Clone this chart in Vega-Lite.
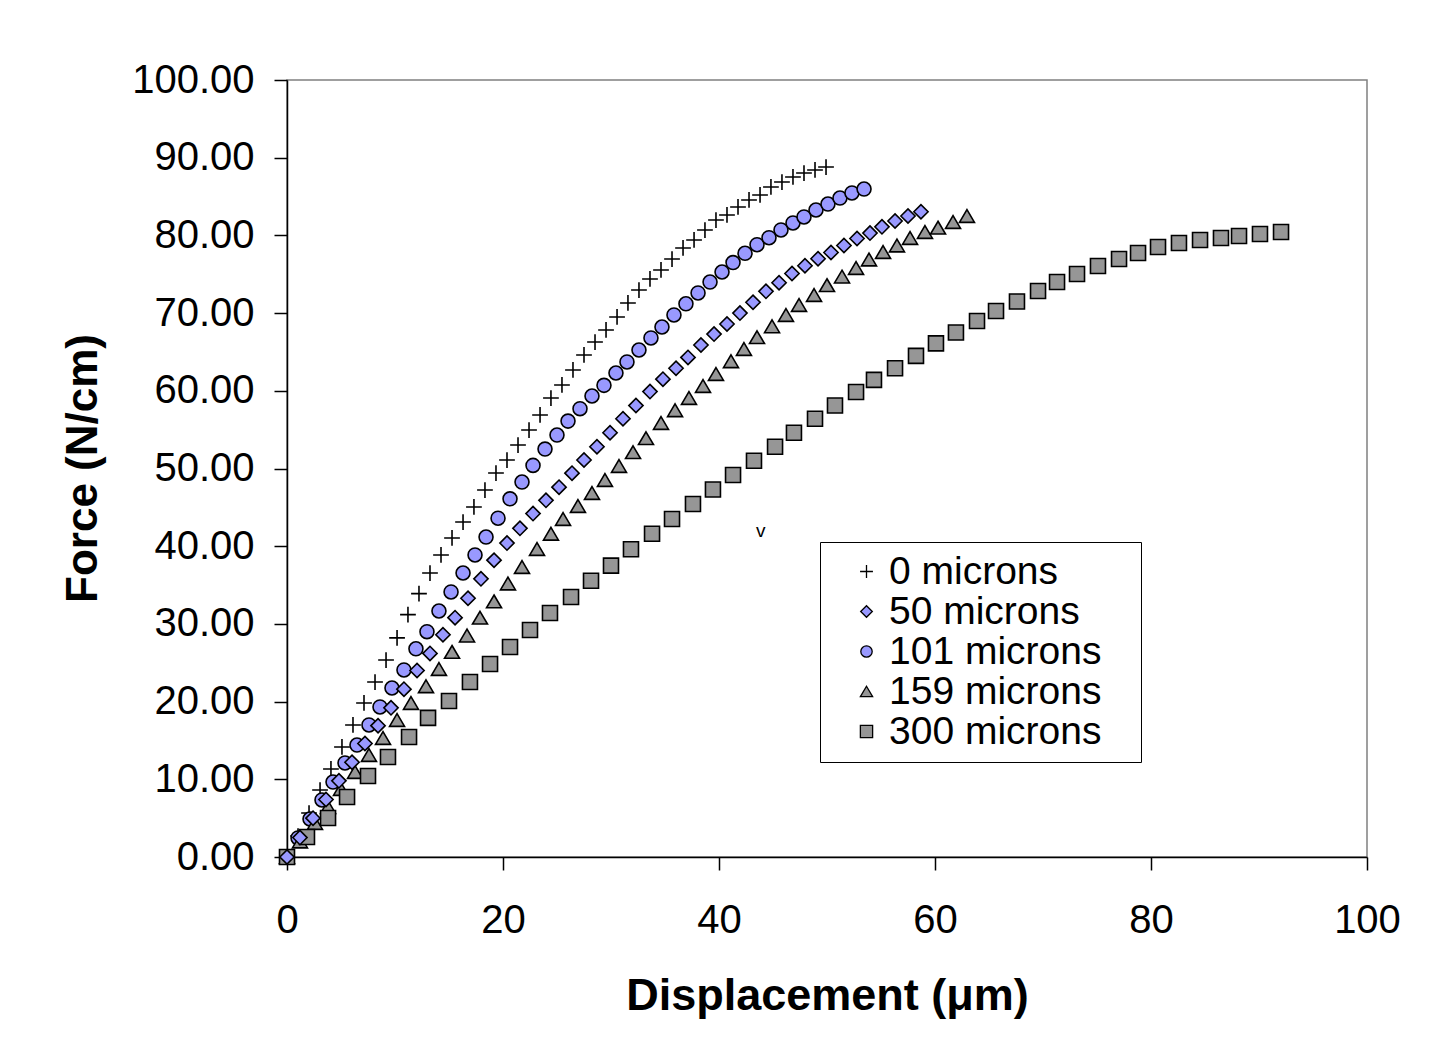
{
  "$schema": "https://vega.github.io/schema/vega-lite/v6.json",
  "autosize": {"type": "none"},
  "width": 1080,
  "height": 777,
  "padding": {"left": 287, "top": 80, "right": 64, "bottom": 183},
  "background": "white",
  "config": {
    "view": {"stroke": "#808080", "strokeWidth": 1.5},
    "font": "Liberation Sans",
    "legend": {
      "orient": "none", "legendX": 533, "legendY": 462,
      "strokeColor": "black", "fillColor": "white", "padding": 10,
      "symbolSize": 150, "symbolStrokeWidth": 1.3, "symbolOffset": 17,
      "labelFont": "Liberation Sans", "labelFontSize": 39, "labelColor": "black", "labelOffset": 3, "labelLimit": 400,
      "rowPadding": 0
    }
  },
  "datasets": {
    "pts": [
      {"s":"0 microns","x":0,"y":0},{"s":"0 microns","x":1.02,"y":2.7},{"s":"0 microns","x":2.04,"y":5.66},{"s":"0 microns","x":3.06,"y":8.62},{"s":"0 microns","x":4.07,"y":11.33},{"s":"0 microns","x":5.09,"y":14.16},{"s":"0 microns","x":6.11,"y":16.99},{"s":"0 microns","x":7.13,"y":19.82},{"s":"0 microns","x":8.15,"y":22.52},{"s":"0 microns","x":9.17,"y":25.35},
      {"s":"0 microns","x":10.19,"y":28.2},{"s":"0 microns","x":11.2,"y":31.2},{"s":"0 microns","x":12.22,"y":33.9},{"s":"0 microns","x":13.24,"y":36.55},{"s":"0 microns","x":14.26,"y":38.87},{"s":"0 microns","x":15.28,"y":41.06},{"s":"0 microns","x":16.3,"y":43.11},{"s":"0 microns","x":17.31,"y":45.05},{"s":"0 microns","x":18.33,"y":47.23},{"s":"0 microns","x":19.35,"y":49.42},
      {"s":"0 microns","x":20.37,"y":51.09},{"s":"0 microns","x":21.39,"y":53.02},{"s":"0 microns","x":22.41,"y":54.95},{"s":"0 microns","x":23.43,"y":56.89},{"s":"0 microns","x":24.44,"y":59.07},{"s":"0 microns","x":25.46,"y":60.75},{"s":"0 microns","x":26.48,"y":62.68},{"s":"0 microns","x":27.5,"y":64.61},{"s":"0 microns","x":28.52,"y":66.28},{"s":"0 microns","x":29.54,"y":67.83},
      {"s":"0 microns","x":30.56,"y":69.5},{"s":"0 microns","x":31.57,"y":71.3},{"s":"0 microns","x":32.59,"y":72.97},{"s":"0 microns","x":33.61,"y":74.39},{"s":"0 microns","x":34.63,"y":75.55},{"s":"0 microns","x":35.65,"y":76.96},{"s":"0 microns","x":36.67,"y":78.38},{"s":"0 microns","x":37.69,"y":79.41},{"s":"0 microns","x":38.7,"y":80.69},{"s":"0 microns","x":39.72,"y":81.98},
      {"s":"0 microns","x":40.74,"y":82.63},{"s":"0 microns","x":41.76,"y":83.66},{"s":"0 microns","x":42.78,"y":84.56},{"s":"0 microns","x":43.8,"y":85.2},{"s":"0 microns","x":44.81,"y":86.23},{"s":"0 microns","x":45.83,"y":86.87},{"s":"0 microns","x":46.85,"y":87.52},{"s":"0 microns","x":47.87,"y":88.03},{"s":"0 microns","x":48.89,"y":88.42},{"s":"0 microns","x":49.91,"y":88.8},

      {"s":"50 microns","x":0,"y":0},{"s":"50 microns","x":1.2,"y":2.5},{"s":"50 microns","x":2.41,"y":5.0},{"s":"50 microns","x":3.61,"y":7.4},{"s":"50 microns","x":4.81,"y":9.8},{"s":"50 microns","x":6.02,"y":12.2},{"s":"50 microns","x":7.22,"y":14.6},{"s":"50 microns","x":8.43,"y":16.9},{"s":"50 microns","x":9.63,"y":19.2},{"s":"50 microns","x":10.83,"y":21.6},
      {"s":"50 microns","x":12.04,"y":24.0},{"s":"50 microns","x":13.24,"y":26.2},{"s":"50 microns","x":14.44,"y":28.6},{"s":"50 microns","x":15.56,"y":30.8},{"s":"50 microns","x":16.76,"y":33.3},{"s":"50 microns","x":17.96,"y":35.8},{"s":"50 microns","x":19.17,"y":38.2},{"s":"50 microns","x":20.37,"y":40.4},{"s":"50 microns","x":21.57,"y":42.3},{"s":"50 microns","x":22.78,"y":44.2},
      {"s":"50 microns","x":23.98,"y":45.9},{"s":"50 microns","x":25.19,"y":47.6},{"s":"50 microns","x":26.39,"y":49.4},{"s":"50 microns","x":27.5,"y":51.1},{"s":"50 microns","x":28.7,"y":52.8},{"s":"50 microns","x":29.91,"y":54.6},{"s":"50 microns","x":31.11,"y":56.4},{"s":"50 microns","x":32.31,"y":58.1},{"s":"50 microns","x":33.61,"y":59.9},{"s":"50 microns","x":34.81,"y":61.5},
      {"s":"50 microns","x":36.02,"y":62.9},{"s":"50 microns","x":37.13,"y":64.3},{"s":"50 microns","x":38.33,"y":65.9},{"s":"50 microns","x":39.54,"y":67.3},{"s":"50 microns","x":40.74,"y":68.6},{"s":"50 microns","x":41.94,"y":70.0},{"s":"50 microns","x":43.15,"y":71.4},{"s":"50 microns","x":44.35,"y":72.8},{"s":"50 microns","x":45.56,"y":73.9},{"s":"50 microns","x":46.76,"y":75.1},
      {"s":"50 microns","x":47.96,"y":76.1},{"s":"50 microns","x":49.17,"y":77.0},{"s":"50 microns","x":50.37,"y":77.8},{"s":"50 microns","x":51.57,"y":78.7},{"s":"50 microns","x":52.78,"y":79.6},{"s":"50 microns","x":53.98,"y":80.3},{"s":"50 microns","x":55.09,"y":81.1},{"s":"50 microns","x":56.3,"y":81.85},{"s":"50 microns","x":57.5,"y":82.5},{"s":"50 microns","x":58.7,"y":83.05},

      {"s":"101 microns","x":0,"y":0},{"s":"101 microns","x":1.02,"y":2.45},{"s":"101 microns","x":2.13,"y":4.89},{"s":"101 microns","x":3.24,"y":7.34},{"s":"101 microns","x":4.26,"y":9.65},{"s":"101 microns","x":5.37,"y":12.1},{"s":"101 microns","x":6.48,"y":14.41},{"s":"101 microns","x":7.59,"y":16.99},{"s":"101 microns","x":8.61,"y":19.31},{"s":"101 microns","x":9.72,"y":21.75},
      {"s":"101 microns","x":10.83,"y":24.07},{"s":"101 microns","x":11.94,"y":26.8},{"s":"101 microns","x":12.96,"y":29.0},{"s":"101 microns","x":14.07,"y":31.66},{"s":"101 microns","x":15.19,"y":34.11},{"s":"101 microns","x":16.3,"y":36.55},{"s":"101 microns","x":17.41,"y":38.87},{"s":"101 microns","x":18.43,"y":41.18},{"s":"101 microns","x":19.54,"y":43.6},{"s":"101 microns","x":20.65,"y":46.1},
      {"s":"101 microns","x":21.76,"y":48.26},{"s":"101 microns","x":22.78,"y":50.4},{"s":"101 microns","x":23.89,"y":52.5},{"s":"101 microns","x":25.0,"y":54.31},{"s":"101 microns","x":26.02,"y":56.1},{"s":"101 microns","x":27.13,"y":57.7},{"s":"101 microns","x":28.24,"y":59.33},{"s":"101 microns","x":29.35,"y":60.7},{"s":"101 microns","x":30.46,"y":62.29},{"s":"101 microns","x":31.48,"y":63.71},
      {"s":"101 microns","x":32.59,"y":65.25},{"s":"101 microns","x":33.7,"y":66.8},{"s":"101 microns","x":34.72,"y":68.21},{"s":"101 microns","x":35.83,"y":69.76},{"s":"101 microns","x":36.94,"y":71.2},{"s":"101 microns","x":38.06,"y":72.59},{"s":"101 microns","x":39.17,"y":74.0},{"s":"101 microns","x":40.28,"y":75.29},{"s":"101 microns","x":41.3,"y":76.5},{"s":"101 microns","x":42.41,"y":77.7},
      {"s":"101 microns","x":43.52,"y":78.8},{"s":"101 microns","x":44.63,"y":79.7},{"s":"101 microns","x":45.74,"y":80.7},{"s":"101 microns","x":46.85,"y":81.6},{"s":"101 microns","x":47.87,"y":82.37},{"s":"101 microns","x":48.98,"y":83.27},{"s":"101 microns","x":50.09,"y":84.04},{"s":"101 microns","x":51.2,"y":84.81},{"s":"101 microns","x":52.31,"y":85.46},{"s":"101 microns","x":53.43,"y":85.97},

      {"s":"159 microns","x":0,"y":0},{"s":"159 microns","x":1.2,"y":2.0},{"s":"159 microns","x":2.59,"y":4.38},{"s":"159 microns","x":3.8,"y":6.44},{"s":"159 microns","x":5.0,"y":8.75},{"s":"159 microns","x":6.3,"y":10.94},{"s":"159 microns","x":7.59,"y":13.13},{"s":"159 microns","x":8.89,"y":15.32},{"s":"159 microns","x":10.19,"y":17.63},{"s":"159 microns","x":11.48,"y":19.82},
      {"s":"159 microns","x":12.87,"y":21.98},{"s":"159 microns","x":14.07,"y":24.2},{"s":"159 microns","x":15.28,"y":26.4},{"s":"159 microns","x":16.67,"y":28.5},{"s":"159 microns","x":17.87,"y":30.8},{"s":"159 microns","x":19.17,"y":32.9},{"s":"159 microns","x":20.46,"y":35.2},{"s":"159 microns","x":21.76,"y":37.32},{"s":"159 microns","x":23.15,"y":39.64},{"s":"159 microns","x":24.44,"y":41.6},
      {"s":"159 microns","x":25.56,"y":43.5},{"s":"159 microns","x":26.94,"y":45.17},{"s":"159 microns","x":28.24,"y":46.85},{"s":"159 microns","x":29.44,"y":48.52},{"s":"159 microns","x":30.74,"y":50.32},{"s":"159 microns","x":32.04,"y":52.1},{"s":"159 microns","x":33.24,"y":53.9},{"s":"159 microns","x":34.63,"y":55.86},{"s":"159 microns","x":35.93,"y":57.5},{"s":"159 microns","x":37.22,"y":59.07},
      {"s":"159 microns","x":38.52,"y":60.62},{"s":"159 microns","x":39.72,"y":62.16},{"s":"159 microns","x":41.11,"y":63.8},{"s":"159 microns","x":42.31,"y":65.38},{"s":"159 microns","x":43.52,"y":66.9},{"s":"159 microns","x":44.91,"y":68.3},{"s":"159 microns","x":46.2,"y":69.76},{"s":"159 microns","x":47.41,"y":71.04},{"s":"159 microns","x":48.8,"y":72.33},{"s":"159 microns","x":50.0,"y":73.6},
      {"s":"159 microns","x":51.39,"y":74.7},{"s":"159 microns","x":52.69,"y":75.8},{"s":"159 microns","x":53.89,"y":76.9},{"s":"159 microns","x":55.19,"y":77.86},{"s":"159 microns","x":56.48,"y":78.7},{"s":"159 microns","x":57.69,"y":79.67},{"s":"159 microns","x":59.07,"y":80.44},{"s":"159 microns","x":60.28,"y":81.0},{"s":"159 microns","x":61.67,"y":81.72},{"s":"159 microns","x":62.96,"y":82.5},

      {"s":"300 microns","x":0,"y":0},{"s":"300 microns","x":1.85,"y":2.57},{"s":"300 microns","x":3.8,"y":5.02},{"s":"300 microns","x":5.56,"y":7.72},{"s":"300 microns","x":7.5,"y":10.42},{"s":"300 microns","x":9.35,"y":12.87},{"s":"300 microns","x":11.3,"y":15.44},{"s":"300 microns","x":13.06,"y":17.9},{"s":"300 microns","x":15.0,"y":20.08},{"s":"300 microns","x":16.94,"y":22.52},
      {"s":"300 microns","x":18.8,"y":24.84},{"s":"300 microns","x":20.65,"y":27.03},{"s":"300 microns","x":22.5,"y":29.21},{"s":"300 microns","x":24.35,"y":31.4},{"s":"300 microns","x":26.3,"y":33.46},{"s":"300 microns","x":28.15,"y":35.55},{"s":"300 microns","x":30.0,"y":37.5},{"s":"300 microns","x":31.85,"y":39.6},{"s":"300 microns","x":33.8,"y":41.6},{"s":"300 microns","x":35.65,"y":43.5},
      {"s":"300 microns","x":37.59,"y":45.43},{"s":"300 microns","x":39.44,"y":47.3},{"s":"300 microns","x":41.3,"y":49.16},{"s":"300 microns","x":43.24,"y":51.0},{"s":"300 microns","x":45.19,"y":52.8},{"s":"300 microns","x":46.94,"y":54.6},{"s":"300 microns","x":48.89,"y":56.4},{"s":"300 microns","x":50.74,"y":58.1},{"s":"300 microns","x":52.69,"y":59.85},{"s":"300 microns","x":54.35,"y":61.4},
      {"s":"300 microns","x":56.3,"y":62.9},{"s":"300 microns","x":58.24,"y":64.5},{"s":"300 microns","x":60.09,"y":66.1},{"s":"300 microns","x":61.94,"y":67.5},{"s":"300 microns","x":63.89,"y":68.98},{"s":"300 microns","x":65.65,"y":70.27},{"s":"300 microns","x":67.59,"y":71.5},{"s":"300 microns","x":69.54,"y":72.85},{"s":"300 microns","x":71.3,"y":74.0},{"s":"300 microns","x":73.15,"y":75.03},
      {"s":"300 microns","x":75.09,"y":76.06},{"s":"300 microns","x":77.04,"y":76.96},{"s":"300 microns","x":78.8,"y":77.73},{"s":"300 microns","x":80.65,"y":78.51},{"s":"300 microns","x":82.59,"y":79.02},{"s":"300 microns","x":84.54,"y":79.41},{"s":"300 microns","x":86.48,"y":79.67},{"s":"300 microns","x":88.15,"y":79.92},{"s":"300 microns","x":90.09,"y":80.18},{"s":"300 microns","x":92.04,"y":80.44}
    ],
    "note": [{"x": 43.86, "y": 42.0, "t": "v"}]
  },
  "layer": [
    {
      "data": {"name": "pts"},
      "mark": {"type": "point", "filled": true, "strokeWidth": 1.6, "opacity": 1, "size": 225},
      "encoding": {
        "x": {
          "field": "x", "type": "quantitative",
          "scale": {"domain": [0, 100], "nice": false, "zero": false},
          "axis": {
            "values": [0, 20, 40, 60, 80, 100],
            "grid": false,
            "domainColor": "black", "domainWidth": 1.5,
            "tickColor": "black", "tickWidth": 1.5, "tickSize": 13,
            "labelFont": "Liberation Sans", "labelFontSize": 40, "labelColor": "black", "labelPadding": 30,
            "labelFlush": false,
            "title": "Displacement (μm)",
            "titleFont": "Liberation Sans", "titleFontSize": 45, "titleFontWeight": "bold", "titleColor": "black",
            "titleX": 540, "titleY": 138, "titleBaseline": "middle", "titleAnchor": "middle", "titleAlign": "center"
          }
        },
        "y": {
          "field": "y", "type": "quantitative",
          "scale": {"domain": [0, 100], "nice": false, "zero": false},
          "axis": {
            "values": [0, 10, 20, 30, 40, 50, 60, 70, 80, 90, 100],
            "format": ".2f",
            "grid": false,
            "domainColor": "black", "domainWidth": 1.5,
            "tickColor": "black", "tickWidth": 1.5, "tickSize": 13,
            "labelFont": "Liberation Sans", "labelFontSize": 40, "labelColor": "black", "labelPadding": 20,
            "labelFlush": false,
            "title": "Force (N/cm)",
            "titleFont": "Liberation Sans", "titleFontSize": 44, "titleFontWeight": "bold", "titleColor": "black",
            "titleX": -204, "titleY": 388, "titleAngle": -90, "titleBaseline": "middle", "titleAlign": "center", "titleAnchor": "middle"
          }
        },
        "shape": {
          "field": "s", "type": "nominal",
          "scale": {
            "domain": ["0 microns", "50 microns", "101 microns", "159 microns", "300 microns"],
            "range": [
              "M-1.05,0H1.05M0,-1.05V1.05",
              "M-0.95,0L0,-0.95L0.95,0L0,0.95Z",
              "M-0.93,0A0.93,0.93 0 1,0 0.93,0A0.93,0.93 0 1,0 -0.93,0Z",
              "M0,-0.85L1,0.85L-1,0.85Z",
              "square"
            ]
          },
          "legend": {"title": null, "labelExpr": "datum.label + '\u2800'"}
        },
        "fill": {
          "field": "s", "type": "nominal",
          "scale": {
            "domain": ["0 microns", "50 microns", "101 microns", "159 microns", "300 microns"],
            "range": ["#000000", "#9999FF", "#9999FF", "#969696", "#969696"]
          },
          "legend": {"title": null, "labelExpr": "datum.label + '\u2800'"}
        },
        "stroke": {
          "field": "s", "type": "nominal",
          "scale": {
            "domain": ["0 microns", "50 microns", "101 microns", "159 microns", "300 microns"],
            "range": ["#000000", "#000000", "#000000", "#000000", "#000000"]
          },
          "legend": {"title": null, "labelExpr": "datum.label + '\u2800'"}
        },
        "order": {"field": "s", "type": "nominal", "sort": "ascending"}
      }
    },
    {
      "data": {"name": "note"},
      "mark": {"type": "text", "font": "Liberation Sans", "fontSize": 19, "color": "black", "baseline": "middle", "align": "center"},
      "encoding": {
        "x": {"field": "x", "type": "quantitative"},
        "y": {"field": "y", "type": "quantitative"},
        "text": {"field": "t"}
      }
    }
  ]
}
